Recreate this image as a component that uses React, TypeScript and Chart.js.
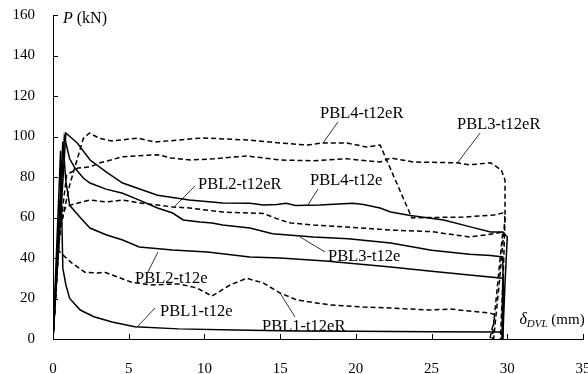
import React, { useEffect, useRef } from "react";
import { Chart, registerables } from "chart.js";

Chart.register(...registerables);

const FONT = "'Liberation Serif', 'Times New Roman', serif";

// Axis ticks
const xTicks = [0, 5, 10, 15, 20, 25, 30, 35];
const yTicks = [0, 20, 40, 60, 80, 100, 120, 140, 160];

// PBL4-t12e (solid)
const pbl4eX = [0, 0.85, 1.6, 2.45, 3.6, 4.6, 6.9, 9.0, 11.2, 13.0, 13.9, 14.8, 15.4, 16.0, 17.6, 19.8, 20.5, 21.6, 22.3, 23.6, 25.8, 27.5, 28.9, 29.7, 30.0, 29.85, 29.7];
const pbl4eY = [0, 101.7, 96.8, 88.4, 82, 77, 71, 68.6, 67.2, 67, 66.2, 66.4, 67, 65.9, 66.2, 67, 66.4, 64.7, 62.7, 61, 58.8, 55.5, 52.8, 52.8, 50.4, 27.6, 0];

// PBL3-t12e (solid)
const pbl3eX = [0, 0.75, 1.1, 1.45, 2.0, 2.44, 3.5, 4.6, 5.7, 6.9, 7.9, 8.6, 9.7, 10.5, 11.2, 13.0, 14.5, 17.2, 19.5, 22.3, 25.0, 27.5, 28.9, 29.7, 29.75, 29.7];
const pbl3eY = [0, 100, 89, 84.4, 79.5, 77, 74, 72, 68.6, 64.7, 62.2, 58.8, 57.8, 57.3, 56.3, 54.8, 52, 50.4, 49.5, 47.4, 43.8, 41.8, 41.2, 40.5, 20, 0];

// PBL2-t12e (solid)
const pbl2eX = [0, 0.65, 0.85, 1.1, 1.8, 2.44, 3.5, 4.6, 5.7, 7.9, 10.2, 13.0, 15, 18, 22.3, 25, 27.5, 29.7, 29.65];
const pbl2eY = [0, 97.5, 78, 66, 60, 54.8, 51.5, 48.9, 45.4, 44, 43, 40.5, 40, 38.5, 35.5, 33.5, 31.6, 30, 0];

// PBL1-t12e (solid)
const pbl1eX = [0, 0.5, 0.58, 0.65, 0.85, 1.1, 1.8, 2.7, 3.9, 5.4, 8.3, 12, 16, 20, 25, 29.5, 29.7, 29.65];
const pbl1eY = [0, 93, 60, 35, 26.7, 20, 14.3, 11, 8.4, 6, 5, 4.4, 4, 3.8, 3.6, 3.5, 2, 0];

// PBL4-t12eR (dashed)
const pbl4rX = [0, 0.35, 0.5, 1.1, 2.0, 2.4, 3.1, 3.9, 5.6, 6.7, 8.4, 9.9, 12.8, 15, 16.8, 17.8, 19.4, 20.7, 21.6, 23.7, 24.9, 27.1, 29.1, 29.7, 29.85, 29.5, 29.1];
const pbl4rY = [0, 44, 55, 76, 99, 101.7, 99, 97.8, 99.2, 97.3, 98.3, 99.3, 98.3, 96.8, 95.8, 96.8, 96.8, 94.8, 95.8, 59.8, 60, 60.2, 61.2, 62.2, 60, 30, 0];

// PBL3-t12eR (dashed)
const pbl3rX = [0, 0.35, 0.5, 0.9, 1.65, 2.44, 3.1, 4.6, 6.9, 7.8, 9.1, 10.6, 12.8, 15, 17.2, 19.4, 21.6, 22.3, 23.8, 26.7, 27.5, 28.9, 29.6, 29.85, 29.85, 29.75, 29.55];
const pbl3rY = [0, 44, 56, 81, 84.4, 85, 87, 90, 91, 89.4, 88.4, 89, 90.4, 88.4, 88, 89, 87.4, 89.4, 87.4, 87, 86, 87, 83.5, 78.5, 60, 35.6, 0];

// PBL2-t12eR (dashed)
const pbl2rX = [0, 0.35, 0.5, 0.8, 1.1, 1.6, 2.44, 3.57, 4.6, 5.7, 6.9, 7.9, 9.0, 11.2, 13.0, 13.9, 15, 15.7, 17.2, 19.4, 22.3, 25, 27.5, 28.6, 29.7, 29.4, 29.0];
const pbl2rY = [0, 44, 56, 64.7, 66, 67, 68.6, 67.7, 68.6, 67.2, 66.2, 65.2, 64.7, 62.7, 62.2, 62, 58.8, 57.3, 56.3, 55.3, 53.8, 53, 50.4, 51.4, 52.8, 30, 0];

// PBL1-t12eR (dashed)
const pbl1rX = [0, 0.35, 0.5, 1.25, 2.1, 3.0, 3.4, 3.9, 5.2, 6.5, 8.3, 9.5, 10.5, 11.7, 12.8, 13.9, 15, 16.1, 18.3, 20.5, 22.3, 24.9, 26.2, 28.86, 29.2, 28.85];
const pbl1rY = [0, 44, 42.5, 37.5, 33, 32.6, 33, 31.6, 28, 26.7, 27.2, 25.2, 21.2, 26.7, 30, 27.6, 22.7, 19.3, 16.8, 15.8, 15.3, 14.3, 14.8, 12.8, 11.9, 0];

// Curve labels (data units) and leader lines
const labelText = ["PBL4-t12eR", "PBL3-t12eR", "PBL2-t12eR", "PBL4-t12e", "PBL3-t12e", "PBL2-t12e", "PBL1-t12e", "PBL1-t12eR"];
const labelX = [17.63, 26.68, 9.58, 16.97, 18.16, 5.42, 7.07, 13.8];
const labelY = [111.1, 105.7, 76.0, 78.0, 40.5, 29.6, 13.3, 5.9];
const leaderX1 = [18.82, 28.2, 9.38, 17.5, 17.96, 6.27, 6.74, 15.98];
const leaderY1 = [107.2, 101.7, 75.6, 74.1, 43.0, 33.1, 15.3, 10.9];
const leaderX2 = [17.83, 26.75, 8.0, 16.84, 16.31, 6.93, 5.55, 14.99];
const leaderY2 = [96.8, 87.4, 65.2, 66.2, 50.4, 43.0, 5.9, 22.7];

const toPts = (xs: number[], ys: number[]) => xs.map((x, i) => ({ x, y: ys[i] }));

const series = [
  { data: toPts(pbl4eX, pbl4eY), dashed: false },
  { data: toPts(pbl3eX, pbl3eY), dashed: false },
  { data: toPts(pbl2eX, pbl2eY), dashed: false },
  { data: toPts(pbl1eX, pbl1eY), dashed: false },
  { data: toPts(pbl4rX, pbl4rY), dashed: true },
  { data: toPts(pbl3rX, pbl3rY), dashed: true },
  { data: toPts(pbl2rX, pbl2rY), dashed: true },
  { data: toPts(pbl1rX, pbl1rY), dashed: true },
];

const overlayPlugin = {
  id: "overlay",
  afterDraw(chart: any) {
    const { ctx, scales } = chart;
    const xs = scales.x;
    const ys = scales.y;
    ctx.save();
    ctx.strokeStyle = "#000";
    ctx.fillStyle = "#000";
    // inside tick marks
    ctx.lineWidth = 1;
    ctx.beginPath();
    yTicks.forEach((v) => {
      const py = Math.round(ys.getPixelForValue(v)) + 0.5;
      ctx.moveTo(xs.left, py);
      ctx.lineTo(xs.left + 5, py);
    });
    xTicks.forEach((v) => {
      const px = Math.round(xs.getPixelForValue(v)) + 0.5;
      ctx.moveTo(px, ys.bottom);
      ctx.lineTo(px, ys.bottom - 5);
    });
    ctx.stroke();

    // leader lines
    ctx.lineWidth = 0.8;
    ctx.beginPath();
    labelText.forEach((_, i) => {
      ctx.moveTo(xs.getPixelForValue(leaderX1[i]), ys.getPixelForValue(leaderY1[i]));
      ctx.lineTo(xs.getPixelForValue(leaderX2[i]), ys.getPixelForValue(leaderY2[i]));
    });
    ctx.stroke();

    // labels
    ctx.font = `16.5px ${FONT}`;
    ctx.textAlign = "left";
    ctx.textBaseline = "middle";
    labelText.forEach((t, i) => {
      ctx.fillText(t, xs.getPixelForValue(labelX[i]), ys.getPixelForValue(labelY[i]));
    });

    // y axis title
    const yTop = ys.getPixelForValue(160);
    ctx.font = `italic 16px ${FONT}`;
    ctx.fillText("P", xs.left + 10, yTop + 4);
    const pw = ctx.measureText("P").width;
    ctx.font = `16px ${FONT}`;
    ctx.fillText(" (kN)", xs.left + 10 + pw, yTop + 4);

    // x axis title
    const tx = xs.getPixelForValue(30.8);
    const ty = ys.getPixelForValue(9.3);
    ctx.font = `italic 16px ${FONT}`;
    ctx.fillText("\u03b4", tx, ty);
    let cx = tx + ctx.measureText("\u03b4").width;
    ctx.font = `italic 11px ${FONT}`;
    ctx.fillText("DVL", cx, ty + 4);
    cx += ctx.measureText("DVL").width;
    ctx.font = `15px ${FONT}`;
    ctx.fillText(" (mm)", cx, ty);
    ctx.restore();
  },
};

export default function App() {
  const ref = useRef<HTMLCanvasElement | null>(null);
  useEffect(() => {
    document.body.style.margin = "0";
    const canvas = ref.current;
    if (!canvas) return;
    const chart = new Chart(canvas, {
      type: "scatter",
      data: {
        datasets: series.map((s) => ({
          data: s.data,
          showLine: true,
          borderColor: "#000",
          backgroundColor: "#000",
          borderWidth: 1.5,
          borderDash: s.dashed ? [5, 3] : [],
          pointRadius: 0,
          pointHoverRadius: 0,
          tension: 0,
          fill: false,
        })),
      },
      options: {
        responsive: false,
        animation: false,
        devicePixelRatio: 1,
        events: [],
        layout: { padding: { top: 15, right: 5, left: 0, bottom: 0 } },
        plugins: { legend: { display: false }, tooltip: { enabled: false } },
        scales: {
          x: {
            type: "linear",
            position: "bottom",
            min: 0,
            max: 35,
            afterFit: (s: any) => {
              s.height = 35;
              s.paddingLeft = 0;
              s.paddingRight = 0;
            },
            ticks: {
              stepSize: 5,
              padding: 21,
              color: "#000",
              font: { family: FONT, size: 15 },
              maxRotation: 0,
            },
            grid: { display: true, drawOnChartArea: false, drawTicks: false },
            border: { display: true, color: "#000", width: 1 },
          },
          y: {
            type: "linear",
            min: 0,
            max: 160,
            afterFit: (s: any) => {
              s.width = 53;
              s.paddingTop = 0;
              s.paddingBottom = 0;
            },
            ticks: {
              stepSize: 20,
              padding: 18,
              color: "#000",
              font: { family: FONT, size: 15 },
            },
            grid: { display: true, drawOnChartArea: false, drawTicks: false },
            border: { display: true, color: "#000", width: 1 },
          },
        },
      },
      plugins: [overlayPlugin],
    } as any);
    return () => chart.destroy();
  }, []);
  return (
    <div style={{ position: "fixed", left: 0, top: 0, width: 588, height: 374, background: "#fff" }}>
      <canvas ref={ref} width={588} height={374} style={{ display: "block" }} />
    </div>
  );
}
